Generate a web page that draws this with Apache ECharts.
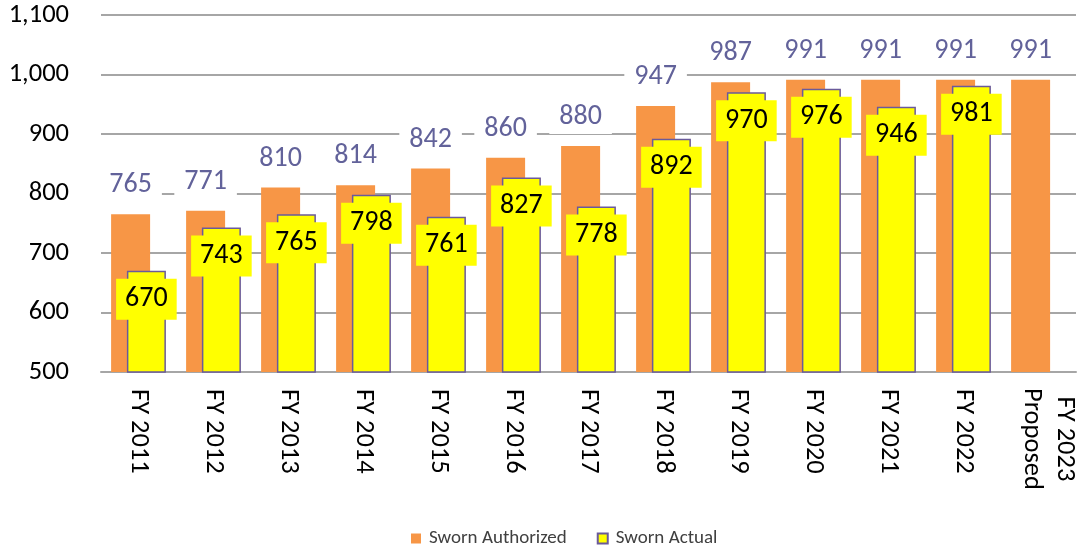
<!DOCTYPE html>
<html>
<head>
<meta charset="utf-8">
<script src="https://cdn.jsdelivr.net/npm/echarts@6/dist/echarts.min.js"></script>
<style>
  html, body { margin: 0; padding: 0; background: #fff; }
  #chart { width: 1078px; height: 550px; }
</style>
</head>
<body>
<div id="chart"></div>
<script>
const years = [
  "FY 2011", "FY 2012", "FY 2013", "FY 2014", "FY 2015", "FY 2016", "FY 2017",
  "FY 2018", "FY 2019", "FY 2020", "FY 2021", "FY 2022", "FY 2023\nProposed",
];
const swornAuthorized = [765, 771, 810, 814, 842, 860, 880, 947, 987, 991, 991, 991, 991];
const swornActual = [670, 743, 765, 798, 761, 827, 778, 892, 970, 976, 946, 981, null];
const yTicks = { min: 500, max: 1100, step: 100 };

const font = "Carlito, Lato, 'Noto Sans', sans-serif";

const chart = echarts.init(document.querySelector("#chart"));

chart.setOption({
  animation: false,
  backgroundColor: "#fff",
  textStyle: { fontFamily: font },
  grid: { left: 101, top: 15, width: 988, height: 357 },
  legend: {
    top: 524,
    left: 406,
    icon: "rect",
    itemWidth: 10,
    itemHeight: 10,
    itemGap: 30,
    textStyle: { fontSize: 19, color: "#404040", fontFamily: font, padding: [0, 0, 0, 3] },
    data: ["Sworn Authorized", "Sworn Actual"],
  },
  xAxis: {
    type: "category",
    data: years,
    axisTick: { show: false },
    axisLine: { lineStyle: { color: "#a6a6a6", width: 2 } },
    axisLabel: {
      rotate: -90,
      margin: 17,
      fontSize: 26.5,
      color: "#000",
      interval: 0,
      // two-line label: centre each line, extra blank line nudges the block right
      formatter: (value) => value.includes("\n")
        ? value.split("\n").map((line) => `{c|${line}}`).join("\n") + "\n{s| }"
        : value,
      rich: {
        c: { width: 100, align: "center", fontSize: 26.5, lineHeight: 33, color: "#000", fontFamily: font },
        s: { fontSize: 10, lineHeight: 20 },
      },
    },
  },
  yAxis: {
    type: "value",
    min: yTicks.min,
    max: yTicks.max,
    interval: yTicks.step,
    axisLine: { show: false },
    axisTick: { show: false },
    axisLabel: {
      margin: 32,
      fontSize: 26.5,
      color: "#000",
      formatter: (v) => v.toLocaleString("en-US"),
    },
    splitLine: { lineStyle: { color: "#a6a6a6", width: 2 } },
  },
  series: [
    {
      name: "Sworn Authorized",
      type: "bar",
      data: swornAuthorized,
      barWidth: 39,
      barGap: "-59.5%",
      itemStyle: { color: "#f79646" },
      label: {
        show: true,
        position: "top",
        distance: 12,
        fontSize: 28,
        lineHeight: 30,
        color: "#62629a",
        backgroundColor: "#fff",
        padding: [2, 10],
      },
    },
    {
      name: "Sworn Actual",
      type: "bar",
      data: swornActual,
      barWidth: 39,
      z: 3,
      itemStyle: { color: "#ffff00", borderColor: "#6a5a9a", borderWidth: 1.5 },
      label: {
        show: true,
        position: "insideTop",
        distance: 8,
        fontSize: 28,
        lineHeight: 29,
        color: "#000",
        backgroundColor: "#ffff00",
        padding: [6, 9],
      },
    },
  ],
});
</script>
</body>
</html>
